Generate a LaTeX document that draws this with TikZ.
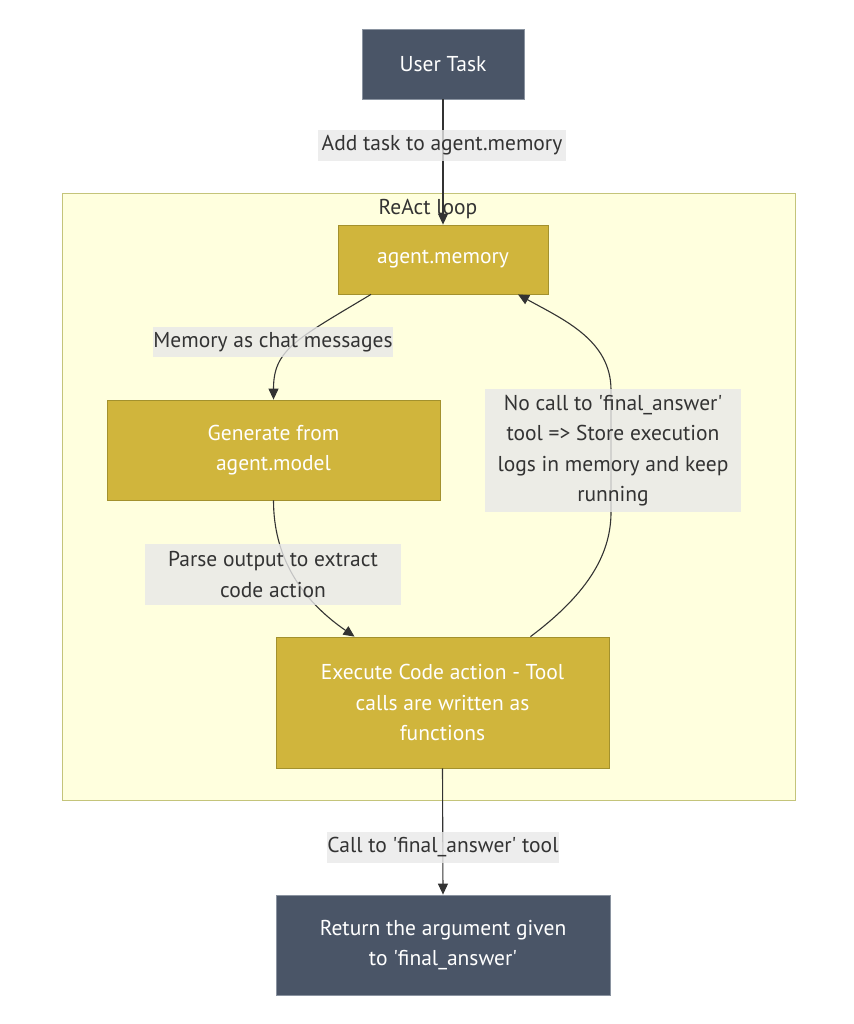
\documentclass[tikz,border=0pt]{standalone}
\usepackage{fontspec}
\setmainfont{PT Sans}
\usetikzlibrary{arrows.meta}
\definecolor{slatefill}{HTML}{4A5567}
\definecolor{slateline}{HTML}{8A93A0}
\definecolor{goldfill}{HTML}{D0B53C}
\definecolor{goldline}{HTML}{A3912D}
\definecolor{loopfill}{HTML}{FFFFDE}
\definecolor{loopline}{HTML}{C4C47A}
\definecolor{labelgray}{HTML}{E8E8E8}
\definecolor{inkgray}{HTML}{333333}
\newcommand{\sq}{\textquotesingle}
\begin{document}
\begin{tikzpicture}[x=1pt,y=-1pt,
        every node/.style={font=\fontsize{21.5}{30.5}\selectfont, align=center, inner sep=0pt},
        slatebox/.style={draw=slateline, fill=slatefill, line width=0.8pt, text=white},
        goldbox/.style={draw=goldline, fill=goldfill, line width=0.8pt, text=white},
        edgelabel/.style={fill=labelgray, fill opacity=0.8, text opacity=1, text=inkgray},
        edge/.style={draw=inkgray, line width=1.1pt, -{Triangle[length=11pt,width=10pt]}}]
    \useasboundingbox (0,0) rectangle (853,1024);
    % the loop cluster
    \node[draw=loopline, fill=loopfill, line width=0.8pt, minimum width=733pt, minimum height=607pt] (loop) at (428.5,496.5) {};
    \node[text=inkgray] (looptitle) at (428,209) {ReAct loop};
    % boxes
    \node[slatebox, minimum width=162pt, minimum height=70pt] (task) at (443,64) {User Task};
    \node[goldbox, minimum width=210pt, minimum height=69pt] (mem) at (443,259.5) {agent.memory};
    \node[goldbox, minimum width=333pt, minimum height=100pt] (gen) at (273.5,450) {Generate from\\agent.model};
    \node[goldbox, minimum width=333pt, minimum height=131pt] (exe) at (442.5,702.5) {Execute Code action - Tool\\calls are written as\\functions};
    \node[slatebox, minimum width=334pt, minimum height=100pt] (ret) at (443,945) {Return the argument given\\to \sq final\_answer\sq};
    \coordinate (loopdown) at (611,512);
    \coordinate (loopup) at (611,390);
    % edges
    \draw[edge] (task.south) -- (mem.north);
    \draw[edge] ([xshift=-72pt]mem.south) .. controls +(-75,45) and +(0,-50) .. (gen.north);
    \draw[edge] (gen.south) .. controls +(0,55) and +(-55,-38) .. ([xshift=-88pt]exe.north);
    \draw[edge] ([xshift=88pt]exe.north) .. controls +(60,-45) and +(0,40) .. (loopdown) -- (loopup)
        .. controls +(0,-50) and +(45,25) .. ([xshift=75pt]mem.south);
    \draw[edge] (exe.south) -- (ret.north);
    % edge labels
    \node[edgelabel, minimum width=248pt, minimum height=31pt] (addlbl) at (442,145.5) {Add task to agent.memory};
    \node[edgelabel, minimum width=236pt, minimum height=30pt] (memlbl) at (273,342) {Memory as chat messages};
    \node[edgelabel, minimum width=256pt, minimum height=61pt] (parselbl) at (273,574.5) {Parse output to extract\\code action};
    \node[edgelabel, minimum width=256pt, minimum height=123pt] (nocalllbl) at (613,450.5) {No call to \sq final\_answer\sq\\tool => Store execution\\logs in memory and keep\\running};
    \node[edgelabel, minimum width=232pt, minimum height=31pt] (calllbl) at (443,847.5) {Call to \sq final\_answer\sq{} tool};
\end{tikzpicture}
\end{document}
